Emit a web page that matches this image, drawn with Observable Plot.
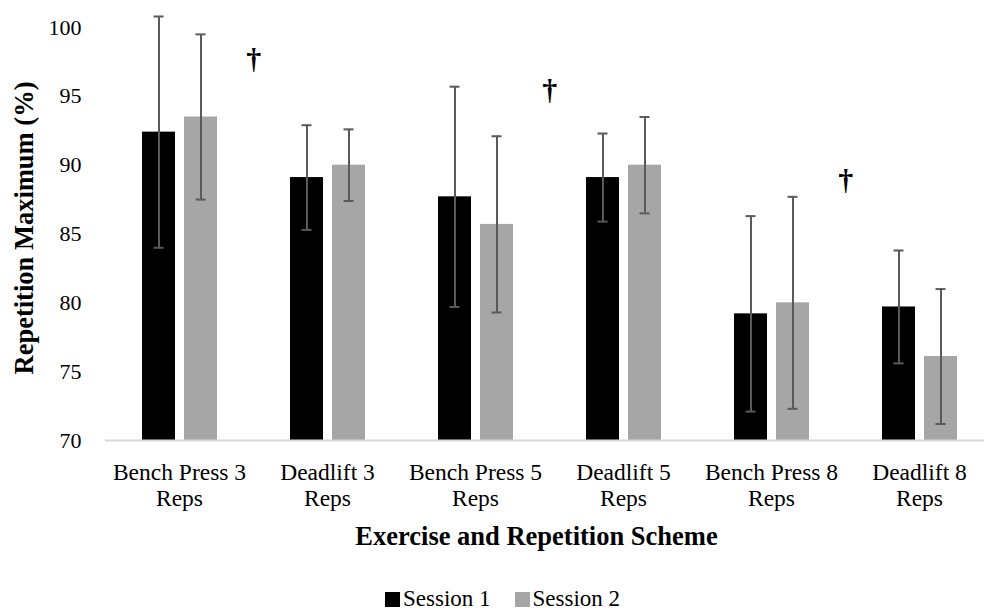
<!DOCTYPE html>
<html>
<head>
<meta charset="utf-8">
<script src="https://cdn.jsdelivr.net/npm/d3@7"></script>
<script src="https://cdn.jsdelivr.net/npm/@observablehq/plot@0.6"></script>
<style>
  html, body { margin: 0; padding: 0; background: #fff; overflow: hidden; }
  #chart svg { display: block; }
  #chart g[aria-label="y-axis label"] text,
  #chart g[aria-label="fx-axis label"] text { font-weight: bold; font-size: 26.5px; }
  .legend { display: flex; align-items: center; margin-left: 385px; margin-top: 9px; line-height: 20px; height: 20px;
            font-family: "Liberation Serif", "Times New Roman", serif; font-size: 23px; color: #000; }
  .legend .sw { width: 15px; height: 15px; display: inline-block; margin-right: 3px; }
  .legend .item { display: flex; align-items: center; margin-right: 24px; }
</style>
</head>
<body>
<div id="chart"></div>
<div class="legend" id="legend"></div>
<script>
// Mean % of one-repetition maximum and SD for each exercise / rep scheme
const categories = [
  "Bench Press 3 Reps", "Deadlift 3 Reps",
  "Bench Press 5 Reps", "Deadlift 5 Reps",
  "Bench Press 8 Reps", "Deadlift 8 Reps"
];
const sessions = ["Session 1", "Session 2"];
const session1Mean = [92.4, 89.1, 87.7, 89.1, 79.2, 79.7];
const session1SD   = [8.4, 3.8, 8.0, 3.2, 7.1, 4.1];
const session2Mean = [93.5, 90.0, 85.7, 90.0, 80.0, 76.1];
const session2SD   = [6.0, 2.6, 6.4, 3.5, 7.7, 4.9];
const sessionColors = ["#000000", "#a6a6a6"];
const yTicks = [70, 75, 80, 85, 90, 95, 100];

// Significance markers (†) placed between the bench press and deadlift groups
const daggerCategories = ["Bench Press 3 Reps", "Bench Press 5 Reps", "Bench Press 8 Reps"];
const daggerY = [97.7, 95.4, 88.9];

const rows = [];
categories.forEach((c, i) => {
  rows.push({category: c, session: sessions[0], mean: session1Mean[i], sd: session1SD[i]});
  rows.push({category: c, session: sessions[1], mean: session2Mean[i], sd: session2SD[i]});
});
const daggers = daggerCategories.map((c, i) => ({category: c, y: daggerY[i]}));

const W = 984, H = 580;
const mLeft = 103, mRight = -11, mTop = 27, mBottom = 140;
const facetWidth = (W - mLeft - mRight) / categories.length;
const yMin = yTicks[0];
const font = '"Liberation Serif", "Times New Roman", serif';

const chart = Plot.plot({
  width: W,
  height: H,
  marginLeft: mLeft,
  marginRight: mRight,
  marginTop: mTop,
  marginBottom: mBottom,
  style: {fontFamily: font, color: "#000", background: "#fff", overflow: "visible"},
  fx: {domain: categories, padding: 0, label: null},
  x: {domain: sessions, paddingInner: 0.22, paddingOuter: 0.85, axis: null},
  y: {domain: [yMin, 100]},
  color: {domain: sessions, range: sessionColors},
  marks: [
    Plot.barY(rows, {fx: "category", x: "session", y1: () => yMin, y2: "mean", fill: "session"}),
    Plot.ruleY([yMin], {stroke: "#d9d9d9", strokeWidth: 2}),
    Plot.ruleX(rows, {fx: "category", x: "session", y1: d => d.mean - d.sd, y2: d => d.mean + d.sd,
      stroke: "#5a5a5a", strokeWidth: 2}),
    Plot.tickY(rows, {fx: "category", x: "session", y: d => d.mean + d.sd,
      stroke: "#5a5a5a", strokeWidth: 2, insetLeft: 11.5, insetRight: 11.5}),
    Plot.tickY(rows, {fx: "category", x: "session", y: d => d.mean - d.sd,
      stroke: "#5a5a5a", strokeWidth: 2, insetLeft: 11.5, insetRight: 11.5}),
    Plot.text(daggers, {fx: "category", y: "y", text: () => "\u2020", dx: facetWidth / 2,
      fontSize: 30, fontWeight: "bold", fill: "#000"}),
    Plot.axisY({ticks: yTicks, tickSize: 0, tickPadding: 24, fontSize: 22,
      label: "Repetition Maximum (%)", labelAnchor: "center", labelArrow: "none", labelOffset: 91}),
    Plot.axisFx({anchor: "bottom", tickSize: 0, tickPadding: 20, fontSize: 23.5, lineHeight: 1.14,
      tickFormat: d => d.replace(" Reps", "\nReps"),
      label: "Exercise and Repetition Scheme", labelAnchor: "center", labelArrow: "none", labelOffset: 104})
  ]
});
document.getElementById("chart").append(chart);

// Axis titles sit slightly off the frame centre
d3.select(chart).select('g[aria-label="fx-axis label"] text').attr("dx", -13);
d3.select(chart).select('g[aria-label="y-axis label"] text').attr("dx", 6);

// Legend below the chart
const legend = document.getElementById("legend");
sessions.forEach((s, i) => {
  const item = document.createElement("span");
  item.className = "item";
  const sw = document.createElement("span");
  sw.className = "sw";
  sw.style.background = sessionColors[i];
  item.append(sw, document.createTextNode(s));
  legend.append(item);
});
</script>
</body>
</html>
